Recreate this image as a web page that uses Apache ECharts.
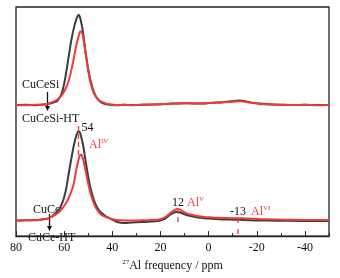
<!DOCTYPE html>
<html>
<head>
<meta charset="utf-8">
<script src="https://cdn.jsdelivr.net/npm/echarts@6/dist/echarts.min.js"></script>
<style>
  html, body { margin: 0; padding: 0; background: #fff; }
  #chart { width: 340px; height: 278px; }
</style>
</head>
<body>
<div id="chart"></div>
<script>
// chemical shift grid (ppm), shared by all four spectra
const ppm = [80, 76, 72, 70, 68, 67, 66, 65, 64, 63, 62, 61, 60, 59, 58, 57, 56, 55, 54, 53.5,
  53, 52.5, 52, 51, 50, 49, 48, 47, 46, 45, 44, 43, 42, 40, 38, 35, 32, 28, 24, 20,
  18, 17, 16, 15, 14, 13, 12, 11, 10, 8, 5, 2, 0, -3, -6, -9, -11, -13, -15, -18,
  -21, -25, -30, -35, -40, -45, -50];

// upper pair (offset axis 0)
const cuCeSi = [0, 0.3, -0.2, 0.3, 0.5, 1, 1.5, 2, 3, 4, 7, 12, 22, 36, 52, 67, 79, 88, 93, 91,
  86, 80, 72, 53, 37, 25, 16, 10, 6, 3.5, 2, 1, 0.5, 0, -0.3, 0.2, 0, 0.3, 0.5, 0.8,
  1, 1.2, 1.3, 1.5, 1.5, 1.5, 1.7, 1.7, 1.8, 1.8, 1.5, 1.5, 2, 2.5, 3, 3.8, 4.3, 4.6, 4, 2.5,
  1.5, 0.8, 0.3, 0, 0.3, 0, 0];
const cuCeSiHT = [0, -0.3, 0.2, 0.3, 0.8, 1.2, 2, 3, 4, 5.5, 7.5, 10, 14, 19, 26, 36, 48, 61, 71, 75,
  76, 74, 68, 52, 35, 23, 14, 9, 6, 4, 3, 2, 1.2, 0.5, 0, 0.2, -0.2, 0.3, 0.6, 0.8,
  1.2, 1.3, 1.5, 1.5, 1.6, 1.6, 1.8, 1.8, 1.8, 1.8, 1.6, 1.6, 2, 2.4, 2.8, 3.2, 3.6, 3.8, 3.4, 2.2,
  1.2, 0.6, 0.3, 0, 0.2, -0.2, 0];

// lower pair (offset axis 1)
const cuCe = [0, 0.3, 0.5, 0.8, 1.5, 2, 3, 4.5, 6.5, 9, 12, 17, 24, 35, 50, 64, 77, 87, 92, 91,
  87, 82, 76, 60, 45, 33, 24, 17, 12.5, 9, 7, 5, 3.5, 1, -1.5, -2.5, -2, -1.5, -1, 0,
  2, 4, 6, 7.5, 8.5, 9, 8.5, 7.5, 6.5, 5, 3.5, 2.5, 2, 1.5, 1.2, 1, 0.8, 0.8, 0.6, 0.3,
  0, 0, -0.3, -0.3, -0.5, -0.5, -0.5];
const cuCeHT = [0, 0.3, 0.3, 0.8, 1.5, 2, 3, 4, 5.5, 7, 9, 12, 15, 19, 24, 30, 38, 52, 63, 67,
  68, 66, 62, 50, 38, 28, 20, 14, 10, 7, 5, 4, 3, 1.5, 0.5, 0, 0, 0.2, 0.5, 1.5,
  3.5, 5.5, 7.5, 9.5, 11, 12, 11.5, 10, 8.5, 6.5, 4.8, 3.8, 3.3, 3, 2.7, 2.5, 2.4, 2.4, 2.2, 2,
  1.6, 1.3, 1, 0.8, 0.6, 0.5, 0.5];

const majorTicks = [80, 60, 40, 20, 0, -20, -40];

const BLACK = "#3d3d3d";
const RED = "#ec3b3d";
const FONT = "Liberation Serif";

const pairs = (ys) => ppm.map((x, i) => [x, ys[i]]);

function spectrum(name, ys, color, yAxisIndex) {
  return {
    name, type: "line", data: pairs(ys), xAxisIndex: 0, yAxisIndex,
    showSymbol: false, symbol: "none", smooth: 0.3,
    lineStyle: { color, width: 2 }, z: color === RED ? 3 : 2, silent: true,
  };
}

const txt = (x, y, text, color, align) => ({
  type: "text", x, y, silent: true,
  style: {
    text, fill: color || "#111", font: "12px " + FONT,
    align: align || "left", verticalAlign: "middle",
    rich: {
      b: { fontFamily: FONT, fontSize: 12, fill: color, lineHeight: 14 },
      s: { fontFamily: FONT, fontSize: 7, fill: color, verticalAlign: "top", lineHeight: 14, padding: [0, 0, 7, 0] },
    },
  },
});
const dash = (x, y1, y2, d) => ({
  type: "line", silent: true, z: 10, shape: { x1: x, y1, x2: x, y2 },
  style: { stroke: RED, lineWidth: 1.3, lineDash: d },
});
const arrow = (x, y1, y2) => [
  { type: "line", silent: true, shape: { x1: x, y1, x2: x, y2: y2 - 4 }, style: { stroke: "#111", lineWidth: 1.3 } },
  { type: "polygon", silent: true, shape: { points: [[x - 2.5, y2 - 5], [x + 2.5, y2 - 5], [x, y2]] }, style: { fill: "#111" } },
];

const chart = echarts.init(document.getElementById("chart"));
chart.setOption({
  animation: false,
  grid: { left: 16, right: 11, top: 7, bottom: 35, show: true, borderColor: "#222", borderWidth: 1.3 },
  xAxis: [
    {
      type: "value", inverse: true, min: -50, max: 80, interval: 10,
      axisLine: { show: true, onZero: false, lineStyle: { color: "#222", width: 1.3 } },
      axisTick: { show: true, inside: true, length: 3, lineStyle: { color: "#222", width: 1 } },
      axisLabel: { customValues: majorTicks, color: "#111", fontFamily: FONT, fontSize: 12, margin: 6 },
      splitLine: { show: false },
      name: "{s|27}{b|Al frequency / ppm}", nameLocation: "middle", nameGap: 18,
      nameTextStyle: {
        rich: {
          b: { fontFamily: FONT, fontSize: 12, color: "#111", lineHeight: 14 },
          s: { fontFamily: FONT, fontSize: 7, color: "#111", verticalAlign: "top", lineHeight: 14, padding: [0, 0, 7, 0] },
        },
      },
    },
    {
      type: "value", inverse: true, min: -50, max: 80, position: "bottom",
      axisLine: { show: false, onZero: false },
      axisTick: { show: true, inside: true, length: 5, customValues: majorTicks, lineStyle: { color: "#222", width: 1 } },
      axisLabel: { show: false }, splitLine: { show: false },
    },
  ],
  yAxis: [
    { type: "value", min: -135, max: 101, show: false },
    { type: "value", min: -16, max: 220, show: false },
  ],
  series: [
    spectrum("CuCeSi", cuCeSi, BLACK, 0),
    spectrum("CuCeSi-HT", cuCeSiHT, RED, 0),
    spectrum("CuCe", cuCe, BLACK, 1),
    spectrum("CuCe-HT", cuCeHT, RED, 1),
  ],
  graphic: [
    txt(22, 85, "CuCeSi"),
    ...arrow(47.5, 92, 111),
    txt(22, 118.5, "CuCeSi-HT"),
    txt(81.5, 128, "54"),
    dash(78.5, 126, 156, [5, 3]),
    txt(89, 145, "{b|Al}{s|IV}", RED),
    txt(33, 210, "CuCe"),
    ...arrow(49.5, 214, 231),
    txt(28, 237.5, "CuCe-HT"),
    txt(178, 203, "12", "#111", "center"),
    dash(178, 209, 224, [5, 3]),
    txt(187, 203, "{b|Al}{s|V}", RED),
    txt(238, 212, "-13", "#111", "center"),
    dash(238, 218, 234, [5, 6]),
    txt(251, 212, "{b|Al}{s|VI}", RED),
  ],
});
</script>
</body>
</html>
